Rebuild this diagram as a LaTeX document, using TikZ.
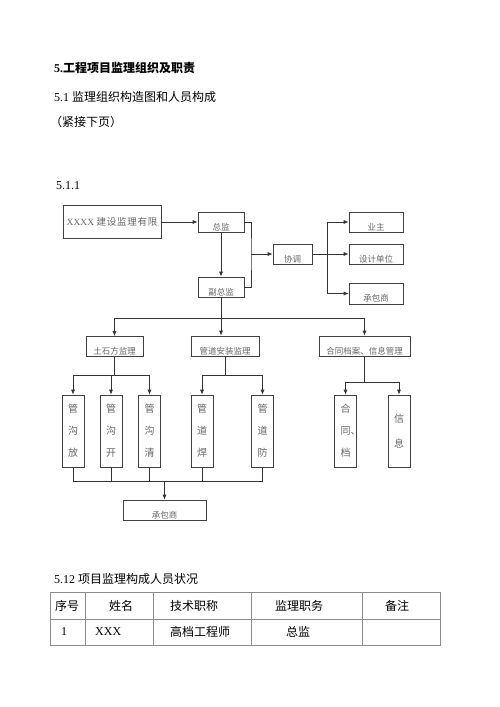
\documentclass[tikz,border=0pt]{standalone}
\usepackage{fontspec}
\setmainfont{Liberation Serif}
\newfontfamily\cjk{Noto Sans CJK SC}
\usetikzlibrary{arrows.meta}
\tikzset{
	txt/.style={anchor=west, inner sep=0pt, font=\fontsize{12}{14}\selectfont},
	box/.style={draw=black!75, line width=0.6pt, rectangle, inner sep=2pt, text=black!60},
	sbox/.style={box, font=\fontsize{8.5}{10}\selectfont\cjk, text height=16pt, text depth=0pt, inner ysep=2pt, minimum height=20pt},
	vbox/.style={box, minimum width=22pt, minimum height=72pt, align=center, font=\fontsize{10}{22}\selectfont\cjk},
	link/.style={draw=black!80, line width=0.7pt},
	tab/.style={draw=black!45, line width=0.6pt},
	cell/.style={anchor=west, inner sep=0pt, font=\fontsize{12}{14}\selectfont\cjk},
}

\begin{document}
\begin{tikzpicture}[x=1pt, y=-1pt, >={Latex[length=5pt,width=4pt]}]
	\useasboundingbox (0,0) rectangle (500,707);
	% headings
	\node[txt, font=\fontsize{12}{14}\selectfont\bfseries] (h1) at (54,68) {5.{\cjk 工程项目监理组织及职责}};
	\node[txt] (h2) at (54,97) {5.1 {\cjk 监理组织构造图和人员构成}};
	\node[txt, font=\fontsize{12}{14}\selectfont\cjk] (h3) at (50,122) {（紧接下页）};
	\node[txt] (h4) at (56,186) {5.1.1};
	
	% top part
	\node[box, minimum width=98pt, minimum height=33pt, font=\fontsize{9.5}{11}\selectfont] (co) at (112,221.5) {XXXX {\cjk\addfontfeature{LetterSpace=8} 建设监理有限}};
	\node[sbox, minimum width=46pt] (zj) at (221,222) {总监};
	\node[sbox, minimum width=46pt] (fzj) at (221,287) {副总监};
	\node[sbox, minimum width=39pt] (xt) at (292.5,254) {协调};
	\node[sbox, minimum width=54pt] (yz) at (376,222) {业主};
	\node[sbox, minimum width=54pt] (sj) at (376,254) {设计单位};
	\node[sbox, minimum width=54pt, minimum height=21pt] (cb1) at (376,293.5) {承包商};
	
	\draw[link,->] (co.east |- zj.west) -- (zj.west);
	\draw[link,->] (zj) -- (fzj);
	\coordinate (brk) at (251,254);
	\draw[link] (zj.east) -| (brk) |- (fzj.east);
	\draw[link,->] (brk) -- (xt.west);
	\coordinate (fork) at (327,254);
	\draw[link,->] (xt.east) -- (sj.west);
	\draw[link,->] (fork) |- (yz.west);
	\draw[link,->] (fork) |- (cb1.west);
	
	% middle part
	\node[sbox, minimum width=57pt, minimum height=19pt] (tsf) at (114.5,346.5) {土石方监理};
	\node[sbox, minimum width=68pt] (gd) at (225,346) {管道安装监理};
	\node[sbox, minimum width=91pt] (ht) at (364.5,346) {合同档案、信息管理};
	
	\coordinate (bus1) at (221,318);
	\draw[link,->] (fzj.south) -- (fzj.south |- gd.north);
	\draw[link] (tsf.north |- bus1) -- (ht.north |- bus1);
	\draw[link,->] (tsf.north |- bus1) -- (tsf.north);
	\draw[link,->] (ht.north |- bus1) -- (ht.north);
	
	% lower part
	\node[vbox] (gf) at (73,431) {管\\沟\\放};
	\node[vbox] (gk) at (111,431) {管\\沟\\开};
	\node[vbox] (gq) at (149.5,431) {管\\沟\\清};
	\node[vbox] (dh) at (202,431) {管\\道\\焊};
	\node[vbox] (df) at (262.5,431) {管\\道\\防};
	\node[vbox] (hd) at (345.5,431) {合\\同\rlap{、}\\档};
	\node[vbox, font=\fontsize{10}{25}\selectfont\cjk] (xx) at (399,431) {信\\息};
	\node[sbox, minimum width=83pt] (cb2) at (164.5,510) {承包商};
	
	\coordinate (bus2) at (0,375);
	\coordinate (bus3) at (0,382);
	\coordinate (bus4) at (0,481);
	\draw[link] (tsf.south) -- (tsf.south |- bus2);
	\draw[link] (gf.north |- bus2) -- (gq.north |- bus2);
	\foreach \n in {gf,gk,gq}
		\draw[link,->] (\n.north |- bus2) -- (\n.north);
	\draw[link] (gd.south) -- (gd.south |- bus2);
	\draw[link] (dh.north |- bus2) -- (df.north |- bus2);
	\foreach \n in {dh,df}
		\draw[link,->] (\n.north |- bus2) -- (\n.north);
	\draw[link] (ht.south) -- (ht.south |- bus3);
	\draw[link] (hd.north |- bus3) -- (xx.north |- bus3);
	\foreach \n in {hd,xx}
		\draw[link,->] (\n.north |- bus3) -- (\n.north);
	\foreach \n in {gf,gk,gq,dh,df}
		\draw[link] (\n.south) -- (\n.south |- bus4);
	\draw[link] (gf.south |- bus4) -- (df.south |- bus4);
	\draw[link,->] (cb2.north |- bus4) -- (cb2.north);
	
	% table
	\node[txt] (h5) at (54,579) {5.12 {\cjk 项目监理构成人员状况}};
	\draw[tab] (50,592) rectangle (440,645);
	\draw[tab] (50,619) -- (440,619);
	\foreach \x in {85,153,251,362}
		\draw[tab] (\x,592) -- (\x,645);
	\node[cell] (c11) at (55,605.5) {序号};
	\node[cell] (c12) at (109,605.5) {姓名};
	\node[cell] (c13) at (170,605.5) {技术职称};
	\node[cell] (c14) at (275,605.5) {监理职务};
	\node[cell] (c15) at (385,605.5) {备注};
	\node[cell, font=\fontsize{12}{14}\selectfont] (c21) at (61,632) {1};
	\node[cell, font=\fontsize{12}{14}\selectfont] (c22) at (95,632) {XXX};
	\node[cell] (c23) at (170,632) {高档工程师};
	\node[cell] (c24) at (286,632) {总监};
\end{tikzpicture}
\end{document}
